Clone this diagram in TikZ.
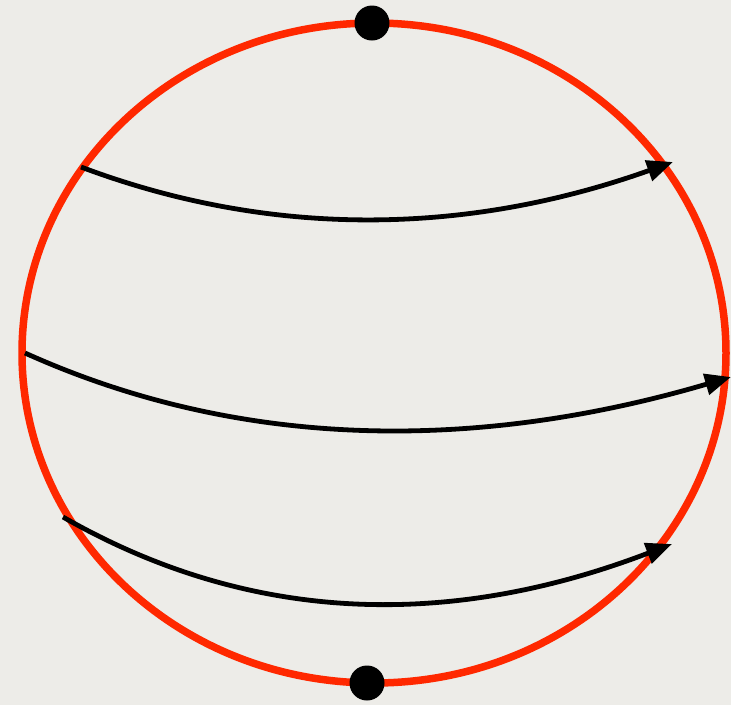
\documentclass[tikz,border=0pt]{standalone}
\usetikzlibrary{arrows.meta}
\definecolor{paper}{RGB}{237,236,232}
\definecolor{rim}{RGB}{255,40,0}
\tikzset{
  rimline/.style={draw=rim, line width=7.5pt},
  pole/.style={circle, fill=black, minimum size=35pt, inner sep=0pt},
  flow/.style={draw=black, line width=4.8pt, -{Triangle[length=26pt,width=21pt]}},
}
\begin{document}
\begin{tikzpicture}[x=1pt,y=-1pt]
\fill[paper] (0,0) rectangle (731,705);
\useasboundingbox (0,0) rectangle (731,705);
\draw[rimline] (374,353) ellipse [x radius=352, y radius=330];
% arrow endpoints
\coordinate (a1) at (81,167);
\coordinate (b1) at (673,162);
\coordinate (a2) at (25,353);
\coordinate (b2) at (731,377);
\coordinate (a3) at (63,517);
\coordinate (b3) at (672,544);
\draw[flow] (a1) .. controls (270,238) and (465,236) .. (b1);
\draw[flow] (a2) .. controls (240,450) and (475,452) .. (b2);
\draw[flow] (a3) .. controls (255,627) and (455,627) .. (b3);
\node[pole] (north) at (372,23) {};
\node[pole] (south) at (367,683) {};
\end{tikzpicture}
\end{document}
